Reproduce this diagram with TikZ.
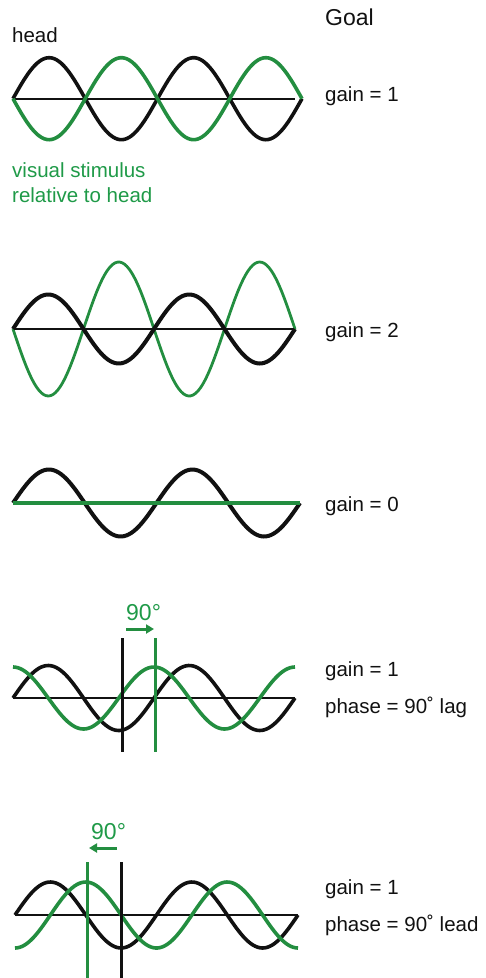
\documentclass[tikz,border=0pt]{standalone}
\usepackage{fontspec}
\setmainfont{Liberation Sans}
\usetikzlibrary{arrows.meta}
\definecolor{HeadBlack}{HTML}{111111}
\definecolor{StimGreen}{HTML}{238E40}
\definecolor{TextGreen}{HTML}{1F9A48}

\begin{document}
\begin{tikzpicture}[
    x=1pt, y=-1pt,
    lbl/.style={
      anchor=base west,
      inner sep=0pt,
      font=\fontsize{20.5}{24}\selectfont,
      text=#1
    },
    lbl/.default=HeadBlack,
    biglbl/.style={
      lbl=#1,
      font=\fontsize{23}{27}\selectfont
    },
    biglbl/.default=HeadBlack,
    axisline/.style={HeadBlack, line width=2pt},
    headwave/.style={HeadBlack, line width=3.6pt, smooth, samples=120},
    stimwave/.style={StimGreen, line width=3.6pt, smooth, samples=120},
    marker/.style={line width=3pt},
    shiftarrow/.style={
      -{Triangle[length=8pt,width=9pt]},
      line width=3pt,
      color=StimGreen
    }
  ]
  \useasboundingbox (0,0) rectangle (485,978);

  % Titles
  \node[biglbl] (goal) at (325,25)  {Goal};
  \node[lbl]    (head) at (12,42)   {head};
  \node[lbl=TextGreen] (stimA) at (12,177) {visual stimulus};
  \node[lbl=TextGreen] (stimB) at (12,202) {relative to head};

  % Panel 1: gain = 1
  \draw[axisline] (13,98.7) -- (295,98.7);
  \draw[headwave] plot[domain=13:302] (\x,{98.7-41*sin((\x-13)/72.25*180)});
  \draw[stimwave] plot[domain=13:302] (\x,{98.7+41*sin((\x-13)/72.25*180)});
  \node[lbl] (gainA) at (325,101) {gain = 1};

  % Panel 2: gain = 2
  \draw[axisline] (13,329) -- (295,329);
  \draw[stimwave, line width=2.8pt] plot[domain=13:295] (\x,{329+67*sin((\x-13)/70.5*180)});
  \draw[headwave, line width=4pt] plot[domain=13:295] (\x,{329-34.5*sin((\x-13)/70.5*180)});
  \node[lbl] (gainB) at (325,337) {gain = 2};

  % Panel 3: gain = 0
  \draw[headwave, line width=4pt] plot[domain=13:300] (\x,{503-33.5*sin((\x-13)/71.75*180)});
  \draw[StimGreen, line width=4pt] (13,503) -- (300,503);
  \node[lbl] (gainC) at (325,511) {gain = 0};

  % Panel 4: 90 deg lag
  \draw[axisline] (13,698) -- (295,698);
  \draw[headwave] plot[domain=13:295] (\x,{698-32.5*sin((\x-13)/70.5*180)});
  \draw[stimwave] plot[domain=13:295] (\x,{698-31*cos((\x-13)/70.5*180)});
  \draw[marker, HeadBlack] (122,638) -- (122,752);
  \draw[marker, StimGreen] (155,638) -- (155,752);
  \node[biglbl=TextGreen] (lagdeg) at (126,620) {90°};
  \coordinate (lagfrom) at (126,629);
  \coordinate (lagto)   at (154,629);
  \draw[shiftarrow] (lagfrom) -- (lagto);
  \node[lbl] (gainD)  at (325,676) {gain = 1};
  \node[lbl] (phaseD) at (325,713) {phase = 90˚ lag};

  % Panel 5: 90 deg lead
  \draw[axisline] (15,915) -- (298,915);
  \draw[headwave] plot[domain=15:298] (\x,{915-33*sin((\x-15)/70.75*180)});
  \draw[stimwave] plot[domain=15:298] (\x,{915+33*cos((\x-15)/70.75*180)});
  \draw[marker, StimGreen] (87,862) -- (87,978);
  \draw[marker, HeadBlack] (121,862) -- (121,978);
  \node[biglbl=TextGreen] (leaddeg) at (91,839) {90°};
  \coordinate (leadfrom) at (117,848);
  \coordinate (leadto)   at (89,848);
  \draw[shiftarrow] (leadfrom) -- (leadto);
  \node[lbl] (gainE)  at (325,894) {gain = 1};
  \node[lbl] (phaseE) at (325,931) {phase = 90˚ lead};

\end{tikzpicture}
\end{document}
